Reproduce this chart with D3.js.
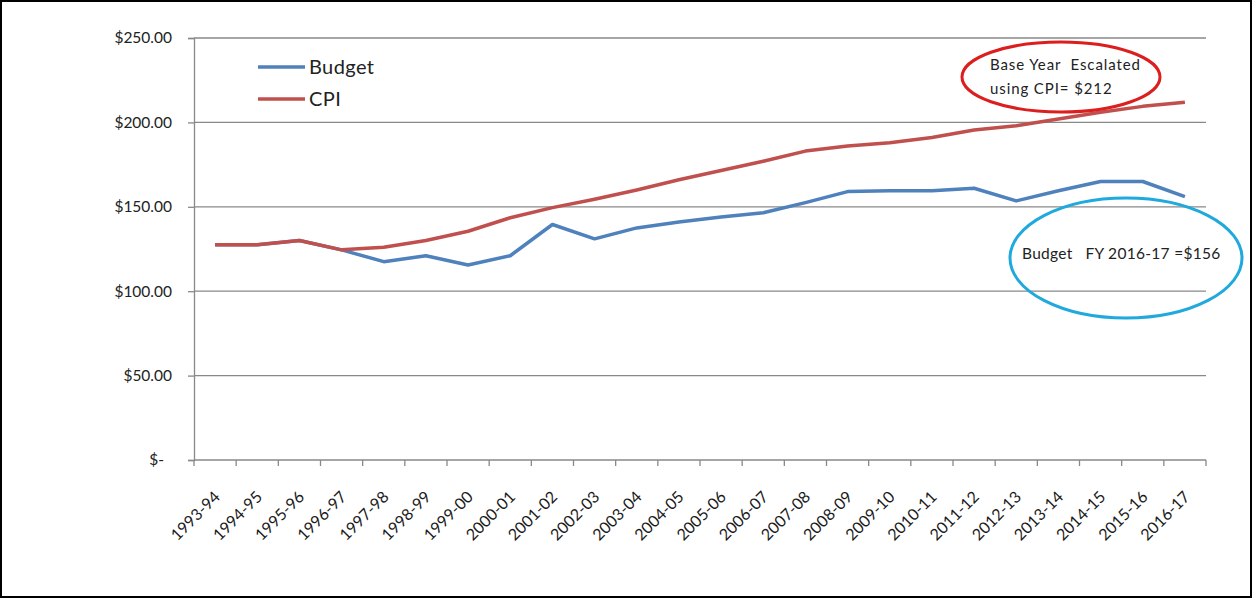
<!DOCTYPE html>
<html>
<head>
<meta charset="utf-8">
<script src="https://cdn.jsdelivr.net/npm/d3@7"></script>
<style>
  html, body { margin: 0; padding: 0; background: #fff; }
  svg { display: block; }
  svg text { font-family: Lato, "Open Sans", sans-serif; }
</style>
</head>
<body>
<div id="chart"></div>
<script>
// fiscal years
const years = ['1993-94', '1994-95', '1995-96', '1996-97', '1997-98', '1998-99', '1999-00',
  '2000-01', '2001-02', '2002-03', '2003-04', '2004-05', '2005-06', '2006-07', '2007-08',
  '2008-09', '2009-10', '2010-11', '2011-12', '2012-13', '2013-14', '2014-15', '2015-16', '2016-17'];

// budget, in dollars
const budget = [127.5, 127.5, 130, 124.5, 117.5, 121, 115.5, 121, 139.5, 131, 137.5, 141,
  144, 146.5, 152.5, 159, 159.5, 159.5, 161, 153.5, 159.5, 165, 165, 156];

// base year escalated with CPI
const cpi = [127.5, 127.5, 130, 124.5, 126, 130, 135.5, 143.5, 149.5, 154.5, 160, 166,
  171.5, 177, 183, 186, 188, 191, 195.5, 198, 202, 206, 209.5, 212];

const yTicks = [0, 50, 100, 150, 200, 250];
const seriesNames = ['Budget', 'CPI'];
const seriesColors = ['#4f81bd', '#c0504d'];

const width = 1252, height = 598;
const margin = { left: 194, right: 46, top: 38, bottom: 138 };

const svg = d3.select('#chart').append('svg')
  .attr('width', width)
  .attr('height', height);

// black frame round the picture
svg.append('rect')
  .attr('x', 1).attr('y', 1)
  .attr('width', width - 2).attr('height', height - 2)
  .attr('fill', '#fff')
  .attr('stroke', '#000')
  .attr('stroke-width', 2);

const x = d3.scaleBand()
  .domain(years)
  .range([margin.left, width - margin.right])
  .padding(0);

const y = d3.scaleLinear()
  .domain([0, 250])
  .range([height - margin.bottom, margin.top]);

// gridlines
svg.append('g')
  .selectAll('line')
  .data(yTicks.filter(d => d > 0))
  .join('line')
  .attr('x1', margin.left)
  .attr('x2', width - margin.right)
  .attr('y1', d => y(d))
  .attr('y2', d => y(d))
  .attr('stroke', '#898989')
  .attr('stroke-width', 1.3);

// y axis
const yAxis = svg.append('g')
  .attr('transform', `translate(${margin.left},0)`)
  .call(d3.axisLeft(y)
    .tickValues(yTicks)
    .tickSize(6)
    .tickPadding(16)
    .tickFormat(d => d === 0 ? '$-' : '$' + d.toFixed(2)));

yAxis.select('.domain').attr('stroke', '#898989').attr('stroke-width', 1.3);
yAxis.selectAll('.tick line').attr('stroke', '#898989').attr('stroke-width', 1.3);
yAxis.selectAll('.tick text')
  .attr('fill', '#222')
  .style('font-size', '15.5px')
  .attr('dx', d => d === 0 ? -8 : 0);

// x axis, ticks between categories
const xAxis = svg.append('g')
  .attr('transform', `translate(0,${y(0)})`);

xAxis.append('line')
  .attr('x1', margin.left)
  .attr('x2', width - margin.right)
  .attr('stroke', '#898989')
  .attr('stroke-width', 1.3);

xAxis.selectAll('line.tk')
  .data(years.concat(['end']))
  .join('line')
  .attr('class', 'tk')
  .attr('x1', d => d === 'end' ? x.range()[1] : x(d))
  .attr('x2', d => d === 'end' ? x.range()[1] : x(d))
  .attr('y1', 0)
  .attr('y2', 6)
  .attr('stroke', '#898989')
  .attr('stroke-width', 1.3);

xAxis.selectAll('text')
  .data(years)
  .join('text')
  .attr('transform', d => `translate(${x(d) + x.bandwidth() / 2 + 2},${34}) rotate(-45)`)
  .attr('text-anchor', 'end')
  .attr('dy', '0.35em')
  .attr('fill', '#1a1a1a')
  .style('font-size', '16px')
  .text(d => d);

// lines
const line = d3.line()
  .x((d, i) => x(years[i]) + x.bandwidth() / 2)
  .y(d => y(d));

[budget, cpi].forEach((s, k) => {
  svg.append('path')
    .datum(s)
    .attr('fill', 'none')
    .attr('stroke', seriesColors[k])
    .attr('stroke-width', 3.5)
    .attr('stroke-linejoin', 'round')
    .attr('d', line);
});

// legend
const legend = svg.append('g')
  .selectAll('g')
  .data(seriesNames)
  .join('g')
  .attr('transform', (d, i) => `translate(258,${67 + i * 32})`);

legend.append('line')
  .attr('x1', 0).attr('x2', 47)
  .attr('stroke', (d, i) => seriesColors[i])
  .attr('stroke-width', 3.5);

legend.append('text')
  .attr('x', 51)
  .attr('dy', '0.35em')
  .attr('fill', '#222')
  .style('font-size', '20px')
  .style('letter-spacing', '0.4px')
  .text(d => d);

// annotations
svg.append('ellipse')
  .attr('cx', 1061).attr('cy', 77)
  .attr('rx', 99).attr('ry', 35)
  .attr('fill', 'none')
  .attr('stroke', '#dc1e1e')
  .attr('stroke-width', 3);

svg.append('text')
  .attr('x', 990).attr('y', 70)
  .attr('fill', '#222')
  .style('font-size', '15px')
  .style('letter-spacing', '0.9px')
  .style('white-space', 'pre')
  .text('Base Year  Escalated');

svg.append('text')
  .attr('x', 990).attr('y', 94)
  .attr('fill', '#222')
  .style('font-size', '15px')
  .style('letter-spacing', '0.9px')
  .text('using CPI= $212');

svg.append('ellipse')
  .attr('cx', 1126).attr('cy', 258)
  .attr('rx', 116).attr('ry', 60)
  .attr('fill', 'none')
  .attr('stroke', '#1fa9dc')
  .attr('stroke-width', 3);

svg.append('text')
  .attr('x', 1022).attr('y', 259)
  .attr('fill', '#222')
  .style('font-size', '15.5px')
  .style('letter-spacing', '0.3px')
  .style('white-space', 'pre')
  .text('Budget   FY 2016-17 =$156');
</script>
</body>
</html>
